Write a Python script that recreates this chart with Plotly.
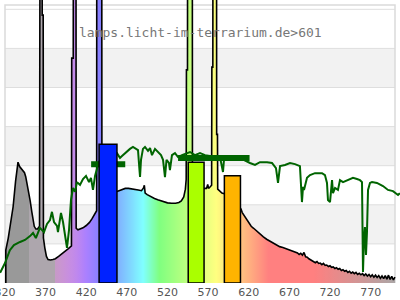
import plotly.graph_objects as go

# ---------------- data ----------------
spec_nm = [321, 321, 324, 327, 330, 333, 335, 336, 338, 340, 342, 344, 345.5, 347, 349, 351, 353, 354.5, 356, 358, 360, 362.5,
           363.3, 365.6, 365.8, 367.0, 367.3, 369, 371, 373, 376, 379, 382, 386, 390, 394, 398, 401.8,
           402.1, 404.0, 404.2, 407.3, 407.6, 409.8, 413, 416, 420, 424, 427, 431, 432.8,
           433.0, 439.0, 439.3, 442, 446, 450, 455, 458, 461, 464, 468, 472, 476, 480, 484, 488, 490.5, 491.5, 492.5,
           495, 498, 501, 504, 508, 512, 516, 520, 525, 530, 534, 537, 540, 542, 543,
           543.3, 544.6, 544.8, 550.5, 550.7, 556, 562, 566, 568, 569.5, 570.5, 572, 574.3,
           574.6, 575.8, 576.0, 580.3, 580.5, 581.5, 581.8, 584, 587, 590, 600, 605, 610.5, 612, 614, 617, 620, 623,
           626, 630, 634, 638, 642, 646, 650, 654, 658, 662, 666, 670, 674, 678, 680, 682, 684, 686, 688, 690, 692,
           694, 696, 698, 700, 702, 704, 706, 708, 710, 712, 714, 716, 718, 720, 722, 724, 726, 728, 730, 732, 734,
           736, 738, 740, 742, 744, 746, 748, 750, 752, 754, 756, 758, 760, 762, 764, 766, 768, 770, 772, 774, 776,
           778, 780, 782, 784, 786, 788, 790, 792, 794, 796, 798, 800]
spec_val = [0, 0.84, 1.15, 1.55, 1.95, 2.6, 3.07, 3.09, 2.98, 2.93, 2.88, 2.82, 2.72, 2.56, 2.3, 2.1, 1.82, 1.6, 1.45, 1.38, 1.38, 1.45,
            12, 12, 6.85, 6.85, 1.15, 0.9, 0.68, 0.6, 0.59, 0.6, 0.62, 0.68, 0.74, 0.8, 0.88, 0.95,
            5.75, 5.75, 12, 12, 1.4, 1.36, 1.38, 1.41, 1.47, 1.55, 1.64, 1.79, 1.85,
            12, 12, 2.3, 2.32, 2.34, 2.35, 2.36, 2.34, 2.37, 2.4, 2.42, 2.42, 2.41, 2.4, 2.38, 2.36, 2.43, 2.5, 2.3,
            2.26, 2.22, 2.19, 2.16, 2.13, 2.1, 2.07, 2.05, 2.04, 2.04, 2.06, 2.1, 2.2, 2.4, 2.65,
            5.45, 5.45, 12, 12, 2.5, 2.4, 2.4, 2.42, 2.42, 2.52, 2.42, 2.45, 2.5,
            5.52, 5.52, 12, 12, 3.8, 3.8, 2.4, 2.35, 2.3, 2.28, 2.15, 2.05, 1.89, 1.8, 1.73, 1.63, 1.53, 1.45,
            1.4, 1.32, 1.25, 1.18, 1.12, 1.07, 1.02, 0.97, 0.93, 0.91, 0.88, 0.84, 0.8, 0.78, 0.77, 0.73, 0.76, 0.71, 0.78, 0.67, 0.66,
            0.62, 0.6, 0.57, 0.56, 0.52, 0.55, 0.5, 0.51, 0.47, 0.5, 0.45, 0.46, 0.42, 0.44, 0.4, 0.41, 0.37, 0.39, 0.35, 0.37, 0.32,
            0.34, 0.3, 0.32, 0.27, 0.3, 0.25, 0.28, 0.24, 0.27, 0.22, 0.25, 0.21, 0.24, 0.19, 0.23, 0.18, 0.22, 0.16, 0.21, 0.15, 0.2,
            0.14, 0.19, 0.12, 0.18, 0.11, 0.19, 0.1, 0.2, 0.09, 0.17, 0.08, 0.15]

sun_nm = [314, 320, 326, 331, 338.5, 344.6, 350.8, 354.5, 358, 363, 368, 371.7, 375.4, 377.8, 380.3, 384, 385.2, 388.9,
          391.4, 393.8, 396.3, 398.8, 401.2, 403.7, 406.2, 408.6, 412.3, 416, 419.7, 423.4, 425.8, 428.3, 430.8, 434.5,
          438.2, 445, 452, 457.8, 461.5, 464, 467.7, 470.2, 473.8, 477.5, 480, 483.7, 485.5, 486.2, 487.4, 489.8, 492.3,
          496, 498.5, 500.9, 504.6, 508.3, 512, 514.5, 516.9, 518.8, 521.8, 523, 525.5, 529.2, 533, 537.8, 541.5, 547.7,
          553.8, 560, 566.2, 572.3, 578.5, 584.6, 588.3, 589.5, 596.9, 609, 621.5, 627.7, 633.8, 642.5, 648.6, 653.5,
          656, 658.5, 664.6, 670.8, 676.9, 683, 685.5, 686.8, 688, 691.7, 695.4, 701.5, 710.2, 713.8, 716.3, 717.5,
          720, 721.2, 722.5, 723.7, 726.2, 729.8, 732.3, 736, 742.2, 748.3, 753.2, 756.9, 759.4, 760, 760.6, 761.8,
          763, 764.3, 765.5, 766.8, 769.2, 771.7, 777.8, 785.2, 791.4, 797.5, 803.7, 806]
sun_val = [0.26, 0.51, 0.84, 0.97, 1.05, 1.1, 1.2, 1.28, 1.15, 1.41, 1.3, 1.51, 1.61, 1.82, 1.56, 1.46, 1.3, 1.79,
           1.56, 1.23, 0.9, 1.36, 2.12, 2.43, 2.33, 2.58, 2.51, 2.66, 2.74, 2.58, 2.69, 2.38, 2.74, 3.02,
           3.2, 3.25, 3.3, 3.32, 3.2, 3.25, 3.32, 3.38, 3.43, 3.48, 3.45, 3.4, 2.89, 2.71, 3.15, 3.43, 3.48,
           3.38, 3.45, 3.27, 3.43, 3.35, 3.27, 3.15, 2.71, 3.15, 3.07, 2.89, 3.27, 3.32, 3.22, 3.27, 3.3, 3.35,
           3.27, 3.32, 3.27, 3.25, 3.25, 3.22, 2.84, 3.15, 3.22, 3.2, 3.07, 3.02, 3.09, 3.09, 3.07, 2.94,
           2.56, 2.99, 3.02, 3.07, 3.04, 2.99, 2.07, 2.46, 2.38, 2.69, 2.76, 2.81, 2.81, 2.76, 2.56, 2.12,
           2.07, 2.38, 2.63, 2.3, 2.43, 2.38, 2.63, 2.58, 2.63, 2.69, 2.66, 2.63, 2.58, 1.61, 0.28, 1.1,
           1.43, 0.72, 1.3, 2.38, 2.56, 2.58, 2.56, 2.48, 2.38, 2.35, 2.25, 2.3]

bar_start = [435.8, 545.5, 590.0]
bar_end = [457.8, 565.0, 609.8]
bar_val = [3.55, 3.09, 2.74]
bar_colors = ["#0022ff", "#aaff00", "#ffb400"]

mark_start = [426, 533]
mark_end = [468, 621]
mark_val = [3.04, 3.2]

tick_vals = [320, 370, 420, 470, 520, 570, 620, 670, 720, 770]
tick_text = [str(v) for v in tick_vals]
band_levels = [1, 2, 3, 4, 5, 6, 7]
title_text = "lamps.licht-im-terrarium.de>601"

X_MIN, X_MAX = 320, 800
PX_PER_NM = 390 / 480
Y_TOP = 283 / 39.1
BORDER_TOP = 278 / 39.1


# ---------------- wavelength colours ----------------
def wl_color(wl):
    grey_uv = (153, 153, 153)
    grey = (173, 166, 173)
    if wl < 350:
        return grey_uv
    if wl < 381:
        return grey
    if wl < 440:
        r, g, b = (440 - wl) / 60, 0, 1
    elif wl < 490:
        r, g, b = 0, (wl - 440) / 50, 1
    elif wl < 510:
        r, g, b = 0, 1, (510 - wl) / 20
    elif wl < 580:
        r, g, b = (wl - 510) / 70, 1, 0
    elif wl < 645:
        r, g, b = 1, (645 - wl) / 65, 0
    else:
        r, g, b = 1, 0, 0
    pastel = [255 * (0.5 + 0.5 * c) for c in (r, g, b)]
    if wl < 420:
        f = 0.3 + 0.7 * (wl - 381) / 39
    elif wl > 700:
        f = max(0.0, 1 - (wl - 700) / 105)
    else:
        f = 1.0
    end_grey = (168, 168, 168)
    gg = grey if wl < 500 else end_grey
    return tuple(f * p + (1 - f) * q for p, q in zip(pastel, gg))


stops = []
wl = X_MIN
while wl <= X_MAX:
    stops.append(wl)
    wl += 2
stops += [349.99, 380.99]
stops = sorted(set(stops))
colorscale = []
for w in stops:
    c = wl_color(w)
    colorscale.append([(w - X_MIN) / (X_MAX - X_MIN), "rgb(%d,%d,%d)" % tuple(round(v) for v in c)])

fig = go.Figure()

# background bands & grid & border
shapes = []
for k in band_levels:
    if k % 2 == 0:
        shapes.append(dict(type="rect", xref="x", yref="y", x0=X_MIN, x1=X_MAX, y0=k - 1, y1=k,
                           fillcolor="#f2f2f2", line_width=0, layer="below"))
for k in band_levels:
    shapes.append(dict(type="line", xref="x", yref="y", x0=X_MIN, x1=X_MAX, y0=k, y1=k,
                       line=dict(color="#dedede", width=1), layer="below"))
shapes.append(dict(type="rect", xref="x", yref="y", x0=X_MIN, x1=X_MAX, y0=0, y1=BORDER_TOP,
                   line=dict(color="#dadada", width=1.5), fillcolor="rgba(0,0,0,0)", layer="below"))

# spectrum
fig.add_trace(go.Scatter(x=spec_nm, y=spec_val, mode="lines", fill="tozeroy",
                         line=dict(color="black", width=1.6),
                         fillgradient=dict(type="horizontal", colorscale=colorscale, start=X_MIN, stop=X_MAX),
                         hoverinfo="skip"))

# sunlight reference
fig.add_trace(go.Scatter(x=sun_nm, y=sun_val, mode="lines",
                         line=dict(color="#006400", width=2), hoverinfo="skip"))

# markers
mx, my = [], []
for s, e, v in zip(mark_start, mark_end, mark_val):
    mx += [s, e, None]
    my += [v, v, None]
fig.add_trace(go.Scatter(x=mx, y=my, mode="lines", line=dict(color="#006400", width=6), hoverinfo="skip"))

# bars (overlay axis so they sit on top)
centers = [(s + e) / 2 for s, e in zip(bar_start, bar_end)]
widths = [e - s for s, e in zip(bar_start, bar_end)]
fig.add_trace(go.Bar(x=centers, y=bar_val, width=widths, marker=dict(color=bar_colors, line=dict(color="black", width=1.5)),
                     xaxis="x2", yaxis="y2", hoverinfo="skip"))

xr = [X_MIN - 5 / PX_PER_NM, X_MAX + 5 / PX_PER_NM]
fig.update_layout(
    width=400, height=300, margin=dict(l=0, r=0, t=0, b=17, autoexpand=False),
    paper_bgcolor="white", plot_bgcolor="white", showlegend=False,
    shapes=shapes,
    xaxis=dict(range=xr, tickvals=tick_vals, ticktext=tick_text, ticks="", showgrid=False, zeroline=False,
               showline=False, tickfont=dict(family="DejaVu Sans", size=11, color="#555"),
               ticklabelstandoff=1, ticklabeloverflow="allow", automargin=False),
    yaxis=dict(range=[0, Y_TOP], showgrid=False, zeroline=False, showticklabels=False, ticks="", automargin=False),
    xaxis2=dict(range=xr, overlaying="x", visible=False),
    yaxis2=dict(range=[0, Y_TOP], overlaying="y", visible=False),
    annotations=[dict(text=title_text, xref="paper", yref="paper", x=0.5, y=1 - 32 / 283,
                      xanchor="center", yanchor="middle", showarrow=False,
                      font=dict(family="DejaVu Sans Mono", size=13, color="#777"))],
)

fig.write_html("out.html")
